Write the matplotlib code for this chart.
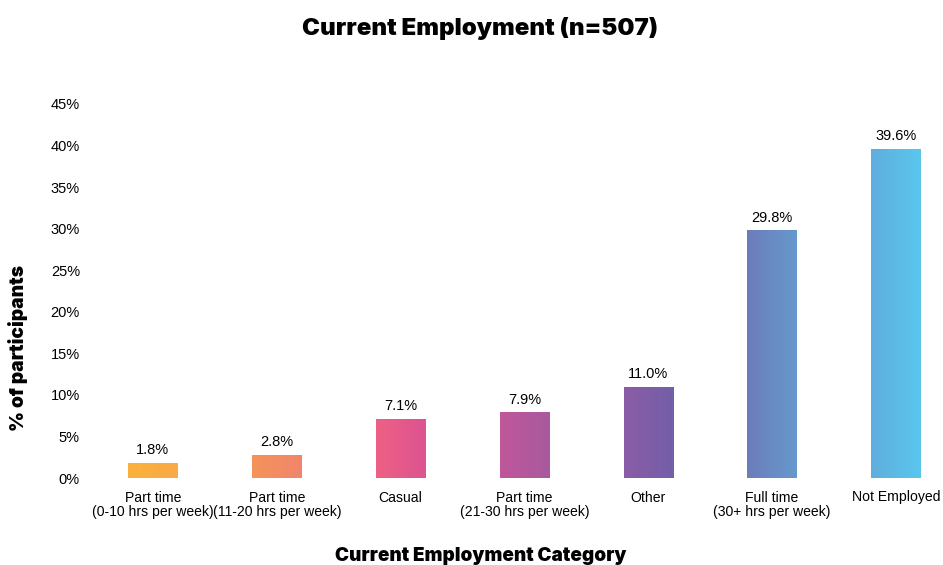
import numpy as np
import matplotlib.pyplot as plt
from matplotlib.colors import LinearSegmentedColormap

categories = ['Part time\n(0-10 hrs per week)', 'Part time\n(11-20 hrs per week)', 'Casual',
              'Part time\n(21-30 hrs per week)', 'Other', 'Full time\n(30+ hrs per week)', 'Not Employed']
values = [1.8, 2.8, 7.1, 7.9, 11.0, 29.8, 39.6]

# left / right colour of each bar's horizontal gradient
grad = [('#FBB13C', '#F9A947'), ('#F4945B', '#F1856B'), ('#EE6084', '#DC5491'),
        ('#C0579A', '#A85A9E'), ('#8B5CA6', '#735FA9'), ('#6C7CBA', '#6699CC'),
        ('#5FAEDD', '#5AC7ED')]

plt.rcParams['font.family'] = ['Liberation Sans', 'DejaVu Sans']
heading = ['Inter', 'DejaVu Sans']

fig = plt.figure(figsize=(9.43, 5.65), dpi=100)
ax = fig.add_axes([91 / 943, 1 - 478 / 565, (943 - 91) / 943, (478 - 104) / 565])

x = np.arange(len(values))
w = 0.4
bars = ax.bar(x, values, width=w, color='none', edgecolor='none')
g = np.linspace(0, 1, 64).reshape(1, -1)
for b, v, (c0, c1) in zip(bars, values, grad):
    cmap = LinearSegmentedColormap.from_list('g', [c0, c1])
    bx = b.get_x()
    im = ax.imshow(g, cmap=cmap, aspect='auto', extent=(bx, bx + w, 0, v), zorder=2)
    im.set_clip_path(b)
    ax.text(b.get_x() + w / 2, v + 0.7, f'{v:.1f}%', ha='center', va='bottom', fontsize=10.5)

ax.set_xlim(-0.5, 6.38)
ax.set_ylim(0, 45)
ax.set_yticks(np.arange(0, 46, 5))
ax.set_yticklabels([f'{t}%' for t in range(0, 46, 5)], fontsize=10.5)
ax.set_xticks(x)
ax.set_xticklabels(categories, fontsize=10.1, linespacing=1.05)
ax.tick_params(length=0, pad=8)
ax.tick_params(axis='x', pad=9)
for s in ax.spines.values():
    s.set_visible(False)

ax.set_ylabel('% of participants', fontsize=13.8, fontweight='black', family=heading)
ax.yaxis.set_label_coords(-0.086, 0.348)
ax.yaxis.label.set_va('center')
ax.set_xlabel('Current Employment Category', fontsize=13.6, fontweight='black', family=heading)
ax.xaxis.set_label_coords(0.457, -0.2086)
ax.xaxis.label.set_va('center')
fig.text(480 / 943, 1 - 28 / 565, 'Current Employment (n=507)', ha='center', va='center',
         fontsize=17.3, fontweight='black', family=heading)

fig.savefig('out.png', dpi=100)
